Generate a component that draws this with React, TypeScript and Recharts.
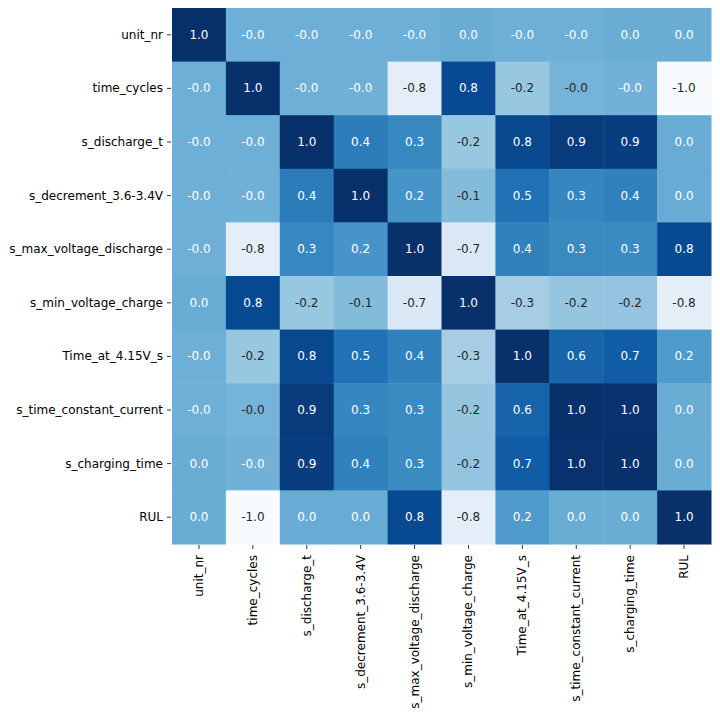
import { ScatterChart, Scatter, XAxis, YAxis } from "recharts";

const names = [
  "unit_nr",
  "time_cycles",
  "s_discharge_t",
  "s_decrement_3.6-3.4V",
  "s_max_voltage_discharge",
  "s_min_voltage_charge",
  "Time_at_4.15V_s",
  "s_time_constant_current",
  "s_charging_time",
  "RUL",
];

// correlation rows, one per variable (same order as names)
const unitNr = [1.0, -0.01, -0.01, -0.01, -0.01, 0.01, -0.01, -0.01, 0.01, 0.01];
const timeCycles = [-0.01, 1.0, -0.01, -0.02, -0.8, 0.8, -0.22, -0.049, -0.03, -1.0];
const sDischargeT = [-0.01, -0.01, 1.0, 0.42, 0.33, -0.22, 0.82, 0.92, 0.9, 0.02];
const sDecrement = [-0.01, -0.02, 0.42, 1.0, 0.22, -0.12, 0.5, 0.34, 0.38, 0.02];
const sMaxVoltage = [-0.01, -0.8, 0.33, 0.22, 1.0, -0.72, 0.38, 0.31, 0.3, 0.8];
const sMinVoltage = [0.01, 0.8, -0.22, -0.12, -0.72, 1.0, -0.3, -0.21, -0.2, -0.8];
const timeAt415 = [-0.01, -0.22, 0.82, 0.5, 0.38, -0.3, 1.0, 0.6, 0.66, 0.17];
const sTimeConstCurrent = [-0.01, -0.049, 0.92, 0.34, 0.31, -0.21, 0.6, 1.0, 0.99, 0.01];
const sChargingTime = [0.01, -0.03, 0.9, 0.38, 0.3, -0.2, 0.66, 0.99, 1.0, 0.01];
const rul = [0.01, -1.0, 0.02, 0.02, 0.8, -0.8, 0.17, 0.01, 0.01, 1.0];

const rows = [
  unitNr,
  timeCycles,
  sDischargeT,
  sDecrement,
  sMaxVoltage,
  sMinVoltage,
  timeAt415,
  sTimeConstCurrent,
  sChargingTime,
  rul,
];

const idx = names.map((_, i) => i);

const data = rows.flatMap((row, i) =>
  row.map((v, j) => ({ x: j, y: i, v }))
);

// matplotlib "Blues"
const blues = [
  [247, 251, 255],
  [222, 235, 247],
  [198, 219, 239],
  [158, 202, 225],
  [107, 174, 214],
  [66, 146, 198],
  [33, 113, 181],
  [8, 81, 156],
  [8, 48, 107],
];

function bluesAt(v: number) {
  const t = Math.max(0, Math.min(1, (v + 1) / 2)) * (blues.length - 1);
  const i = Math.min(Math.floor(t), blues.length - 2);
  const f = t - i;
  return blues[i].map((c, k) => c + (blues[i + 1][k] - c) * f);
}

function lum(rgb: number[]) {
  const lin = rgb.map((c) => {
    const s = c / 255;
    return s <= 0.03928 ? s / 12.92 : Math.pow((s + 0.055) / 1.055, 2.4);
  });
  return 0.2126 * lin[0] + 0.7152 * lin[1] + 0.0722 * lin[2];
}

const W = 704;
const H = 700;
const Y_AXIS_W = 164;
const X_AXIS_H = 164;
const RIGHT = 1;
const CELL_W = (W - Y_AXIS_W - RIGHT) / names.length;
const CELL_H = (H - X_AXIS_H) / names.length;
const FONT = "DejaVu Sans, sans-serif";

const HeatCell = (props: any) => {
  const { cx, cy, payload } = props;
  const rgb = bluesAt(payload.v);
  const fill = `rgb(${rgb.map((c) => Math.round(c)).join(",")})`;
  const txt = lum(rgb) > 0.408 ? "#262626" : "#ffffff";
  return (
    <g>
      <rect
        x={cx - CELL_W / 2}
        y={cy - CELL_H / 2}
        width={CELL_W + 0.5}
        height={CELL_H + 0.5}
        fill={fill}
      />
      <text
        x={cx}
        y={cy}
        fill={txt}
        fontSize={12}
        fontFamily={FONT}
        textAnchor="middle"
        dominantBaseline="central"
      >
        {payload.v.toFixed(1)}
      </text>
    </g>
  );
};

const YTick = ({ x, y, payload }: any) => (
  <g>
    <line x1={x - 5} x2={x - 1} y1={y} y2={y} stroke="#000" strokeWidth={0.8} />
    <text
      x={x - 9}
      y={y}
      textAnchor="end"
      dominantBaseline="central"
      fontSize={12}
      fontFamily={FONT}
      fill="#000"
    >
      {names[payload.value]}
    </text>
  </g>
);

const XTick = ({ x, y, payload }: any) => (
  <g>
    <line x1={x} x2={x} y1={y + 1} y2={y + 5} stroke="#000" strokeWidth={0.8} />
    <text
      x={x}
      y={y + 11}
      transform={`rotate(-90 ${x} ${y + 11})`}
      textAnchor="end"
      dominantBaseline="central"
      fontSize={12}
      fontFamily={FONT}
      fill="#000"
    >
      {names[payload.value]}
    </text>
  </g>
);

export default function App() {
  return (
    <ScatterChart
      width={W}
      height={H}
      margin={{ top: 0, right: RIGHT, bottom: 0, left: 0 }}
    >
      <XAxis
        type="number"
        dataKey="x"
        domain={[-0.5, 9.5]}
        ticks={idx}
        interval={0}
        height={X_AXIS_H}
        axisLine={false}
        tickLine={false}
        tickSize={0}
        tickMargin={0}
        tick={<XTick />}
      />
      <YAxis
        type="number"
        dataKey="y"
        domain={[-0.5, 9.5]}
        reversed
        ticks={idx}
        interval={0}
        width={Y_AXIS_W}
        axisLine={false}
        tickLine={false}
        tickSize={0}
        tickMargin={0}
        tick={<YTick />}
      />
      <Scatter data={data} shape={<HeatCell />} isAnimationActive={false} />
    </ScatterChart>
  );
}
